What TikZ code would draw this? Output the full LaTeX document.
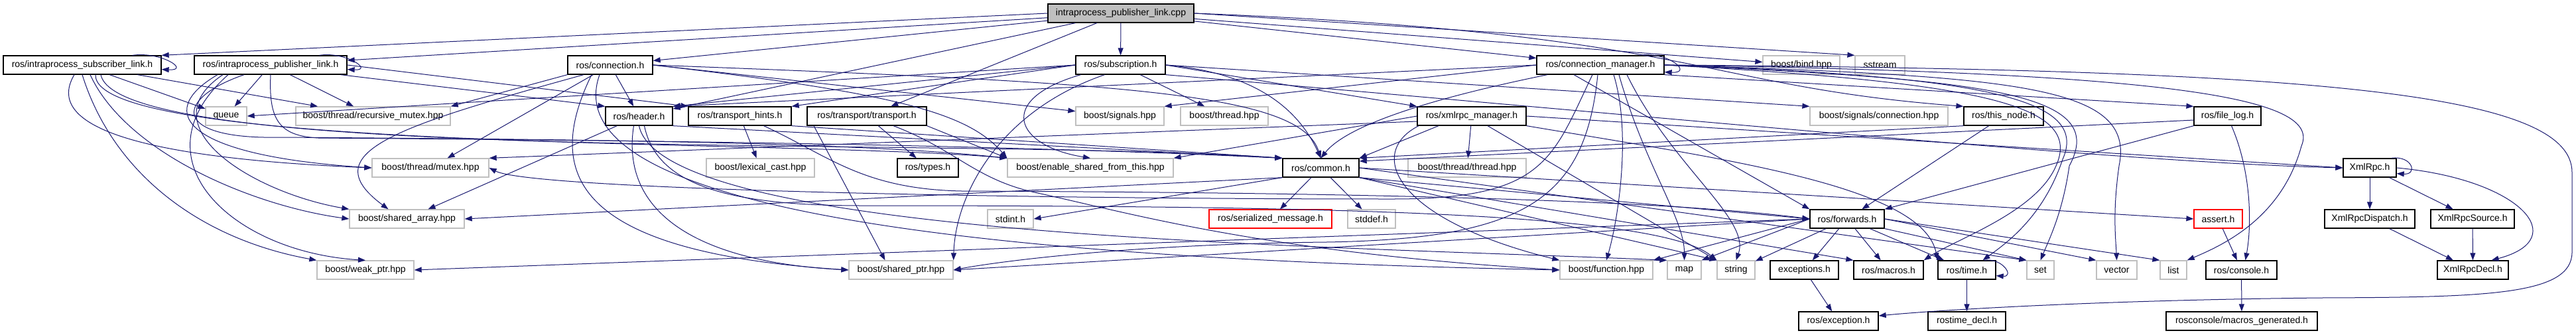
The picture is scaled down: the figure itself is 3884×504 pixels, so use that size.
\documentclass[tikz,border=0pt]{standalone}
\usepackage{fontspec}
\setmainfont{Liberation Sans}
\usepackage{tikz}
\usetikzlibrary{arrows.meta}
\definecolor{edgeblue}{HTML}{191970}
\definecolor{boxgray}{HTML}{BFBFBF}
\definecolor{missred}{HTML}{FF0000}
\tikzset{
  incnode/.style={draw=black, line width=0.65pt, fill=white, minimum height=14pt, inner sep=0pt, font=\fontsize{7}{8}\selectfont},
  sysnode/.style={incnode, draw=boxgray},
  missnode/.style={incnode, draw=missred},
  srcnode/.style={incnode, fill=boxgray},
  dep/.style={draw=edgeblue, line width=0.5pt, -{Triangle[length=5.5pt,width=4pt]}},
}
\begin{document}
\begin{tikzpicture}[x=0.5pt,y=-0.5pt]
\useasboundingbox (0,0) rectangle (3884,504);

\node[srcnode, minimum width=110pt] (root) at (1690,20) {intraprocess\_publisher\_link.cpp};

\node[incnode, minimum width=119pt] (subLink) at (124,98) {ros/intraprocess\_subscriber\_link.h};
\node[incnode, minimum width=115pt] (pubLink) at (408,98) {ros/intraprocess\_publisher\_link.h};
\node[incnode, minimum width=64pt] (conn) at (920,98) {ros/connection.h};
\node[incnode, minimum width=67.5pt] (subscr) at (1689.5,98) {ros/subscription.h};
\node[incnode, minimum width=96pt] (connMgr) at (2413,98) {ros/connection\_manager.h};
\node[sysnode, minimum width=58pt] (bind) at (2716,98) {boost/bind.hpp};
\node[sysnode, minimum width=37.5pt] (sstream) at (2834.5,98) {sstream};

\node[sysnode, minimum width=31pt] (queue) at (341,175) {queue};
\node[sysnode, minimum width=116.5pt] (recMutex) at (562.5,175) {boost/thread/recursive\_mutex.hpp};
\node[incnode, minimum width=50.5pt] (header) at (963.5,175) {ros/header.h};
\node[incnode, minimum width=77.5pt] (hints) at (1115.5,175) {ros/transport\_hints.h};
\node[incnode, minimum width=90pt] (transport) at (1307,175) {ros/transport/transport.h};
\node[sysnode, minimum width=66.5pt] (signals) at (1688.5,175) {boost/signals.hpp};
\node[sysnode, minimum width=66pt] (thread) at (1846,175) {boost/thread.hpp};
\node[incnode, minimum width=82pt] (xmlrpcMgr) at (2219,175) {ros/xmlrpc\_manager.h};
\node[sysnode, minimum width=104pt] (sigConn) at (2833,175) {boost/signals/connection.hpp};
\node[incnode, minimum width=60pt] (thisNode) at (3021,175) {ros/this\_node.h};
\node[incnode, minimum width=50.5pt] (fileLog) at (3358.5,175) {ros/file\_log.h};

\node[sysnode, minimum width=88pt] (mutex) at (649,253) {boost/thread/mutex.hpp};
\node[sysnode, minimum width=81.5pt] (lexCast) at (1146.5,253) {boost/lexical\_cast.hpp};
\node[incnode, minimum width=46pt] (types) at (1399,253) {ros/types.h};
\node[sysnode, minimum width=125pt] (enableShared) at (1644,253) {boost/enable\_shared\_from\_this.hpp};
\node[incnode, minimum width=57.5pt] (common) at (1991.5,253) {ros/common.h};
\node[sysnode, minimum width=89pt] (thrThread) at (2212,253) {boost/thread/thread.hpp};
\node[incnode, minimum width=40pt] (xmlRpc) at (3573,253) {XmlRpc.h};

\node[sysnode, minimum width=86.5pt] (sharedArr) at (613.5,330) {boost/shared\_array.hpp};
\node[sysnode, minimum width=34.5pt] (stdint) at (1523.5,330) {stdint.h};
\node[missnode, minimum width=92.5pt] (serMsg) at (1915.5,330) {ros/serialized\_message.h};
\node[sysnode, minimum width=36pt] (stddef) at (2068,330) {stddef.h};
\node[incnode, minimum width=56pt] (forwards) at (2785,330) {ros/forwards.h};
\node[missnode, minimum width=36.5pt] (assertH) at (3344.5,330) {assert.h};
\node[incnode, minimum width=68pt] (dispatch) at (3573,330) {XmlRpcDispatch.h};
\node[incnode, minimum width=63pt] (source) at (3728,330) {XmlRpcSource.h};

\node[sysnode, minimum width=73pt] (weakPtr) at (551,407) {boost/weak\_ptr.hpp};
\node[sysnode, minimum width=78.5pt] (sharedPtr) at (1358.5,407) {boost/shared\_ptr.hpp};
\node[sysnode, minimum width=70pt] (function) at (2422,407) {boost/function.hpp};
\node[sysnode, minimum width=25.5pt] (map) at (2539.5,407) {map};
\node[sysnode, minimum width=28.5pt] (string) at (2617.5,407) {string};
\node[incnode, minimum width=51.5pt] (exceptions) at (2720.5,407) {exceptions.h};
\node[incnode, minimum width=52.5pt] (macros) at (2847.5,407) {ros/macros.h};
\node[incnode, minimum width=43.5pt] (time) at (2965.5,407) {ros/time.h};
\node[sysnode, minimum width=20.5pt] (set) at (3076.5,407) {set};
\node[sysnode, minimum width=30.5pt] (vector) at (3191.5,407) {vector};
\node[sysnode, minimum width=20pt] (list) at (3277,407) {list};
\node[incnode, minimum width=53.5pt] (console) at (3379.5,407) {ros/console.h};
\node[incnode, minimum width=53.5pt] (decl) at (3728.5,407) {XmlRpcDecl.h};

\node[incnode, minimum width=60pt] (exception) at (2772,484) {ros/exception.h};
\node[incnode, minimum width=58.5pt] (rtDecl) at (2965.5,484) {rostime\_decl.h};
\node[incnode, minimum width=114pt] (macGen) at (3380,484) {rosconsole/macros\_generated.h};

% source file
\draw[dep] (root.west) -- (subLink.north east);
\draw[dep] (root) -- (pubLink);
\draw[dep] (root) -- (conn);
\draw[dep] (root) -- (header);
\draw[dep] (root) -- (transport);
\draw[dep] (root) -- (subscr);
\draw[dep] (root) -- (connMgr);
\draw[dep] (root) -- (bind);
\draw[dep] (root.east) -- (sstream.north west);
\draw[dep] (root.east) .. controls (2560,50) and (2560,130) .. (thisNode.north west);

% intraprocess links
\draw[dep] ([xshift=-22pt]subLink.north east) .. controls +(22pt,3pt) and +(22pt,-1pt) .. ([yshift=4pt]subLink.south east);
\draw[dep] (subLink) -- (queue);
\draw[dep] (subLink) -- (recMutex);
\draw[dep] ([xshift=-6pt]subLink.south) .. controls (60,200) and (250,240) .. (mutex.west);
\draw[dep] ([xshift=6pt]subLink.south) .. controls (190,230) and (380,310) .. (sharedArr.west);
\draw[dep] (subLink.south) .. controls (170,260) and (300,360) .. (weakPtr.north west);
\draw[dep] ([xshift=10pt]subLink.south) .. controls (140,230) and (1200,210) .. (enableShared.north west);
\draw[dep] ([xshift=14pt]subLink.south) .. controls (180,250) and (1450,205) .. (common.north west);

\draw[dep] ([xshift=-21pt]pubLink.north east) .. controls +(20pt,3pt) and +(20pt,-1pt) .. ([yshift=4pt]pubLink.south east);
\draw[dep] (pubLink) -- (queue);
\draw[dep] (pubLink) -- (recMutex);
\draw[dep] ([xshift=-40pt]pubLink.south) .. controls (230,170) and (280,235) .. (mutex.west);
\draw[dep] ([xshift=-36pt]pubLink.south) .. controls (220,190) and (380,290) .. (sharedArr.north west);
\draw[dep] ([xshift=-32pt]pubLink.south) .. controls (200,240) and (350,380) .. (weakPtr.north);
\draw[dep] ([xshift=-20pt]pubLink.south) .. controls (260,150) and (260,210) .. (420,207) .. controls (900,210) and (1300,215) .. (enableShared.north west);
\draw[dep] (pubLink.south) .. controls (405,180) and (420,205) .. (480,208) .. controls (1000,212) and (1500,218) .. (common.north west);
\draw[dep] ([xshift=-5pt]pubLink.south east) -- (header.north west);
\draw[dep] (pubLink.east) -- (hints.north west);

% connection
\draw[dep] (conn) -- (header);
\draw[dep] (conn.south west) -- (recMutex.north east);
\draw[dep] (conn) -- (mutex);
\draw[dep] ([xshift=-20pt]conn.south) .. controls (600,190) and (470,230) .. ([xshift=-14pt]sharedArr.north);
\draw[dep] ([xshift=-14pt]conn.south) .. controls (820,260) and (860,380) .. (sharedPtr.west);
\draw[dep] ([xshift=-8pt]conn.south) .. controls (830,320) and (1500,390) .. (function.west);
\draw[dep] (conn.east) .. controls (1350,140) and (1460,170) .. (enableShared.north west);
\draw[dep] (conn.east) -- (signals);
\draw[dep] (conn.east) .. controls (1700,125) and (1960,140) .. (common.north);

% header, hints, transport
\draw[dep] (header) -- ([xshift=16pt]sharedArr.north);
\draw[dep] ([xshift=-4pt]header.south) .. controls (935,320) and (1050,395) .. (sharedPtr.west);
\draw[dep] (header.south) .. controls (1000,360) and (2000,370) .. (map.north west);
\draw[dep] ([xshift=4pt]header.south) .. controls (990,280) and (1100,310) .. (1300,310) .. controls (2000,310) and (2500,320) .. (string.north west);
\draw[dep] (header.south east) -- (common.north west);

\draw[dep] (hints) -- (lexCast);
\draw[dep] (hints.south east) -- (common.north west);
\draw[dep] ([xshift=18pt]hints.south) .. controls (1250,235) and (1300,285) .. (1450,288) .. controls (2000,290) and (2500,300) .. (forwards.west);

\draw[dep] (transport) -- (types);
\draw[dep] ([xshift=-40pt]transport.south) -- ([xshift=-12pt]sharedPtr.north);
\draw[dep] ([xshift=20pt]transport.south) .. controls (1440,225) and (1470,270) .. (1560,290) .. controls (1700,320) and (1900,380) .. (function.west);
\draw[dep] (transport.south east) -- (enableShared.north west);

% subscription
\draw[dep] (subscr.west) -- (queue.east);
\draw[dep] (subscr.west) -- (header.north east);
\draw[dep] (subscr.west) -- (hints.north east);
\draw[dep] (subscr.east) .. controls (1900,110) and (1960,170) .. (common.north);
\draw[dep] (subscr.east) -- (xmlrpcMgr.north west);
\draw[dep] (subscr.south east) .. controls (2550,180) and (3200,245) .. (xmlRpc.west);
\draw[dep] (subscr) -- (thread);
\draw[dep] ([xshift=-30pt]subscr.south) .. controls (1500,150) and (1530,220) .. (enableShared.north);
\draw[dep] ([xshift=-12pt]subscr.south) .. controls (1500,170) and (1440,300) .. (sharedPtr.north east);
\draw[dep] (subscr.east) -- (sigConn.north west);

% connection manager
\draw[dep] ([xshift=-19pt]connMgr.north east) .. controls +(22pt,3pt) and +(22pt,-1pt) .. ([yshift=2pt]connMgr.south east);
\draw[dep] (connMgr.west) -- (header.north east);
\draw[dep] (connMgr.west) -- (signals.north east);
\draw[dep] ([xshift=-40pt]connMgr.south) .. controls (2150,150) and (2030,190) .. (common.north);
\draw[dep] ([xshift=-6pt]connMgr.south) .. controls (2340,240) and (2330,300) .. (2100,300) .. controls (1500,300) and (800,285) .. (mutex.east);
\draw[dep] ([xshift=-2pt]connMgr.south) .. controls (2390,300) and (2300,360) .. (2000,365) .. controls (1700,368) and (1500,395) .. (sharedPtr.east);
\draw[dep] ([xshift=10pt]connMgr.south) .. controls (2460,200) and (2440,330) .. (function.north);
\draw[dep] ([xshift=14pt]connMgr.south) .. controls (2480,250) and (2540,330) .. (map.north);
\draw[dep] ([xshift=20pt]connMgr.south) .. controls (2520,250) and (2640,330) .. (string.north);
\draw[dep] ([xshift=-20pt]connMgr.south) -- (forwards.north west);
\draw[dep] (connMgr.south east) -- (fileLog.north west);
\draw[dep] (connMgr.east) .. controls (3000,115) and (3150,150) .. (3110,240) .. controls (3080,330) and (3020,370) .. ([xshift=12pt]time.north);
\draw[dep] (connMgr.east) .. controls (3000,125) and (3140,160) .. (3100,250) .. controls (3070,320) and (2950,360) .. (macros.north east);
\draw[dep] (connMgr.east) .. controls (3000,120) and (3180,140) .. (3120,250) .. controls (3110,320) and (3090,360) .. (set.north);
\draw[dep] (connMgr.east) .. controls (3050,115) and (3220,130) .. (3195,250) .. controls (3185,320) and (3190,360) .. (vector.north);
\draw[dep] (connMgr.east) .. controls (3300,110) and (3500,150) .. (3470,220) .. controls (3440,330) and (3350,370) .. (list.north east);
\draw[dep] (connMgr.east) .. controls (3500,105) and (3878,140) .. (3878,260) -- (3878,380) .. controls (3878,445) and (3750,448) .. (3500,449) .. controls (3200,452) and (2950,465) .. ([yshift=4pt]exception.east);

% xmlrpc manager
\draw[dep] (xmlrpcMgr) -- (thrThread);
\draw[dep] ([xshift=-25pt]xmlrpcMgr.south) -- (common.north east);
\draw[dep] ([xshift=-40pt]xmlrpcMgr.south) .. controls (2060,230) and (2100,330) .. (function.north west);
\draw[dep] (xmlrpcMgr.west) -- (enableShared.north east);
\draw[dep] ([yshift=-4pt]xmlrpcMgr.west) -- (mutex.north east);
\draw[dep] (xmlrpcMgr.east) -- (xmlRpc.west);
\draw[dep] (xmlrpcMgr.south east) .. controls (2600,240) and (2900,280) .. (time.north west);
\draw[dep] ([xshift=12pt]xmlrpcMgr.south) -- (string.north west);

% this node, file log
\draw[dep] (thisNode.south west) -- (common.north east);
\draw[dep] (thisNode) -- (forwards);
\draw[dep] ([yshift=-3pt]fileLog.west) -- ([yshift=5pt]common.east);
\draw[dep] (fileLog.south west) -- (forwards.north east);
\draw[dep] ([xshift=3pt]fileLog.south) .. controls (3395,260) and (3395,340) .. ([xshift=3pt]console.north);

% common
\draw[dep] (common) -- (serMsg);
\draw[dep] (common) -- (stddef);
\draw[dep] (common.south west) -- (stdint.east);
\draw[dep] (common.south west) -- (sharedArr.east);
\draw[dep] (common.south east) -- (forwards.west);
\draw[dep] (common.east) -- (assertH.west);
\draw[dep] (common.south east) -- (macros.north west);
\draw[dep] (common.south east) -- (string.north west);
\draw[dep] (common.east) -- (set.north west);

% forwards
\draw[dep] (forwards) -- (string);
\draw[dep] (forwards) -- (exceptions);
\draw[dep] (forwards) -- (macros);
\draw[dep] (forwards) -- (time);
\draw[dep] (forwards.south east) -- (set.north west);
\draw[dep] (forwards.east) -- (vector.north west);
\draw[dep] (forwards.east) -- (list.north west);
\draw[dep] (forwards.west) -- (map.north east);
\draw[dep] (forwards.west) -- (function.north east);
\draw[dep] (forwards.west) -- (sharedPtr.east);
\draw[dep] (forwards.west) -- (weakPtr.east);

% leaves
\draw[dep] ([xshift=-9pt]time.north east) .. controls +(14pt,2pt) and +(14pt,-1pt) .. ([yshift=3pt]time.south east);
\draw[dep] (time) -- (rtDecl);
\draw[dep] (exceptions) -- (exception);
\draw[dep] (assertH) -- (console);
\draw[dep] (console) -- (macGen);
\draw[dep] ([xshift=-4pt]xmlRpc.north east) .. controls +(16pt,2pt) and +(16pt,-1pt) .. ([yshift=3pt]xmlRpc.south east);
\draw[dep] (xmlRpc) -- (dispatch);
\draw[dep] (xmlRpc) -- (source);
\draw[dep] (xmlRpc.east) .. controls (3800,270) and (3880,360) .. ([xshift=14pt]decl.north);
\draw[dep] (dispatch) -- (decl);
\draw[dep] (source) -- (decl);
\end{tikzpicture}
\end{document}
